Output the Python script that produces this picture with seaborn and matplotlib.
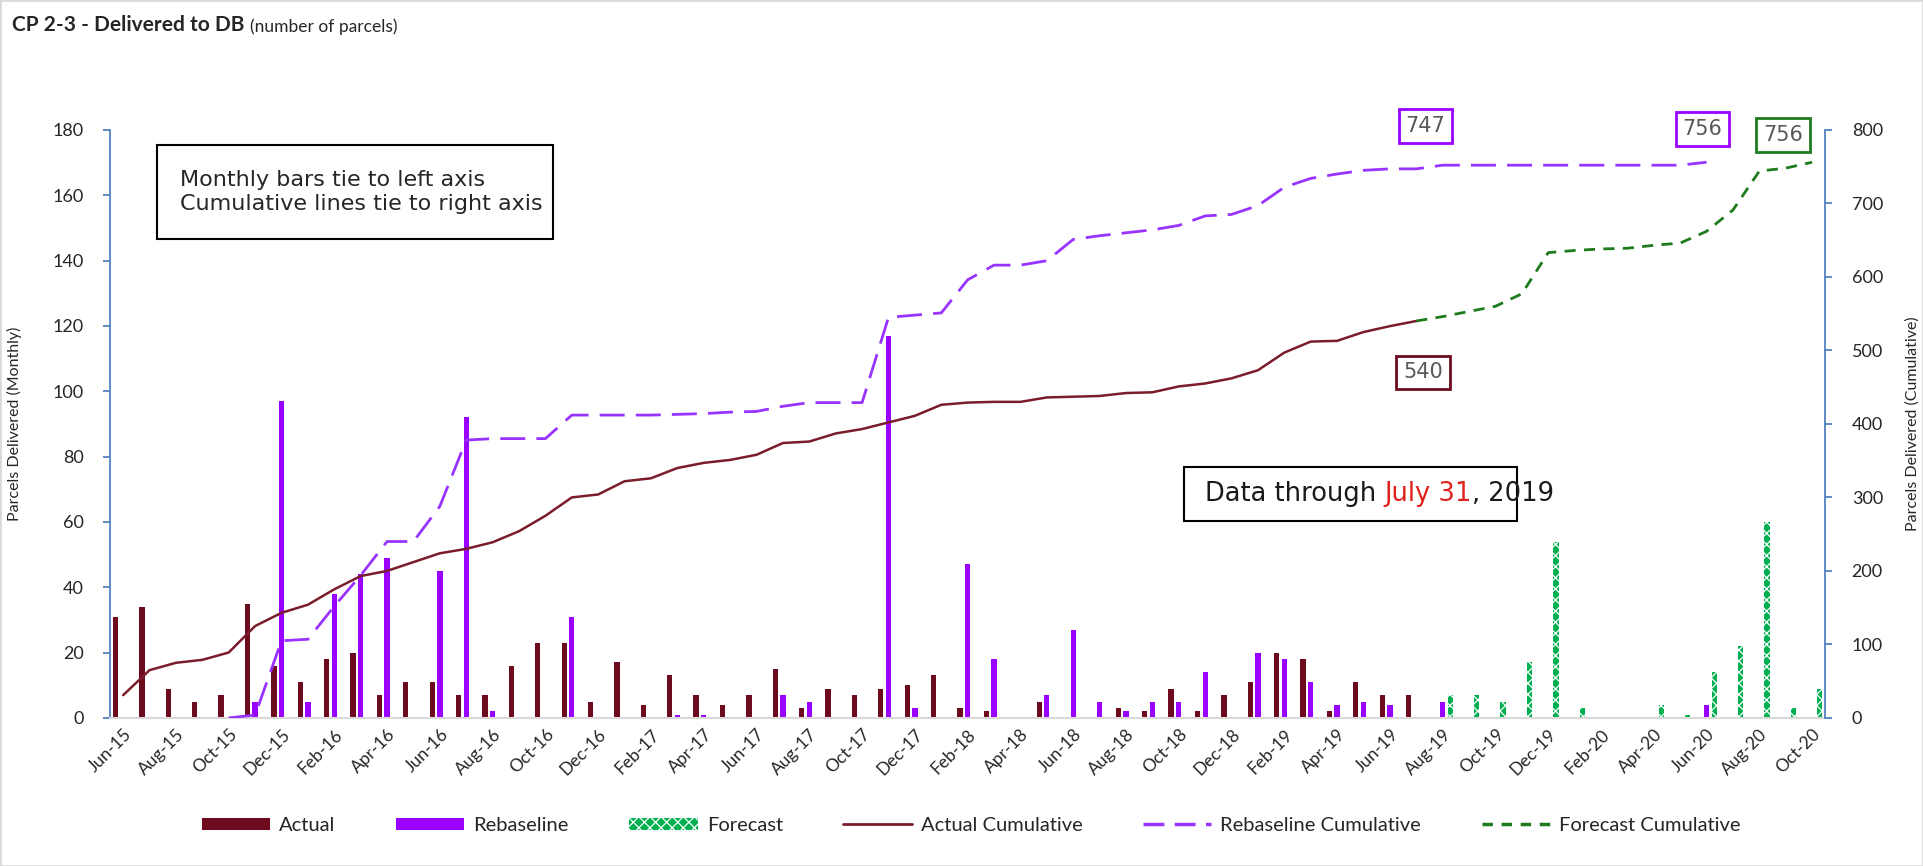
import numpy as np
import pandas as pd
import matplotlib
matplotlib.use("Agg")
import matplotlib.pyplot as plt
from matplotlib.patches import Patch, Rectangle
from matplotlib.lines import Line2D
import seaborn as sns

# ---- data ----
months = pd.date_range("2015-06-01", periods=65, freq="MS").strftime("%b-%y").tolist()

actual = [31, 34, 9, 5, 7, 35, 16, 11, 18, 20, 7, 11, 11, 7, 7, 16, 23, 23, 5,
          17, 4, 13, 7, 4, 7, 15, 3, 9, 7, 9, 10, 13, 3, 2, 0,
          5, 0, 0, 3, 2, 9, 2, 7, 11, 20, 18, 2, 11, 7, 7] + [0] * 15

rebaseline = [0, 0, 0, 0, 0, 5, 97, 5, 38, 44, 49, 0, 45, 92, 2, 0, 0, 31, 0,
              0, 0, 1, 1, 0, 0, 7, 5, 0, 0, 117, 3, 0, 47, 18, 0,
              7, 27, 5, 2, 5, 5, 14, 0, 20, 18, 11, 4, 5, 4, 0,
              5, 0, 0, 0, 0, 0, 0, 0, 0, 0, 4, 0, 0, 0, 0]

forecast = [0] * 50 + [7, 7, 5, 17, 54, 3, 0, 0, 4, 1, 14, 22, 60, 3, 9]

actual_cum = [31, 65, 75, 79, 89, 125, 143, 154, 175, 193, 200, 212, 224, 230, 239,
              254, 275, 300, 304, 322, 326, 340, 347, 351, 358, 374, 376, 387, 393,
              402, 411, 426, 429, 430, 430, 436, 437, 438, 442, 443, 451, 455, 462,
              473, 497, 512, 513, 525, 533, 540] + [np.nan] * 15

rebaseline_cum = [np.nan] * 4 + [0, 4, 105, 107, 152, 194, 240, 240, 288, 378, 380,
                  380, 380, 412, 412, 412, 412, 413, 414, 416, 417, 424, 429, 429,
                  429, 545, 548, 551, 596, 616, 616, 622, 651, 656, 660, 664, 670,
                  683, 685, 697, 722, 734, 740, 745, 747, 747,
                  752, 752, 752, 752, 752, 752, 752, 752, 752, 752, 756] + [np.nan] * 4

forecast_cum = [np.nan] * 49 + [540, 546, 553, 560, 577, 633, 636, 638, 639, 643,
                                646, 662, 691, 744, 748, 756]

series_names = ["Actual", "Rebaseline", "Forecast"]
bar_colors = {"Actual": "#6e0a1e", "Rebaseline": "#9900ff", "Forecast": "#00b050"}
c_act_line = "#7a1c2a"
c_reb_line = "#9933ff"
c_fc_line = "#1e7b1e"
axis_blue = "#4a7ebb"

df = pd.DataFrame({
    "month": months * 3,
    "series": np.repeat(series_names, len(months)),
    "value": actual + rebaseline + forecast,
})

sns.set_theme(style="white")
plt.rcParams["font.family"] = ["Lato", "DejaVu Sans"]
plt.rcParams["hatch.linewidth"] = 0.9

fig = plt.figure(figsize=(19.23, 8.66), dpi=100)
ax = fig.add_axes([0.0572, 0.171, 0.892, 0.679])

sns.barplot(data=df, x="month", y="value", hue="series", order=months,
            hue_order=series_names, palette=bar_colors, width=0.87, gap=0.31,
            errorbar=None, saturation=1, linewidth=0, legend=False, ax=ax)

# hatched forecast bars
for bar in ax.containers[2]:
    bar.set_edgecolor("white")
    bar.set_hatch("xxx")
    bar.set_linewidth(0)

ax.set_xlim(-0.5, 64.5)
ax.set_ylim(0, 180)
ax.set_yticks(range(0, 181, 20))
ax.set_xticks(range(0, 65, 2))
ax.set_xticklabels(months[::2], rotation=45, ha="right", rotation_mode="anchor",
                   fontsize=12.5)
ax.set_xlabel("")
ax.set_ylabel("Parcels Delivered (Monthly)", fontsize=11.5)
ax.yaxis.set_label_coords(-0.0513, 0.5)

ax2 = ax.twinx()
x = np.arange(len(months))
sns.lineplot(x=x, y=actual_cum, ax=ax2, color=c_act_line, linewidth=1.8)
sns.lineplot(x=x, y=rebaseline_cum, ax=ax2, color=c_reb_line, linewidth=2)
sns.lineplot(x=x, y=forecast_cum, ax=ax2, color=c_fc_line, linewidth=2)
ax2.lines[1].set_dashes([9, 4])
ax2.lines[2].set_dashes([4, 3])
ax2.set_ylim(0, 800)
ax2.set_yticks(range(0, 801, 100))
ax2.set_ylabel("Parcels Delivered (Cumulative)", fontsize=11.5)
ax2.yaxis.set_label_coords(1.0466, 0.5)

for a in (ax, ax2):
    a.spines["top"].set_visible(False)
ax.spines["right"].set_visible(False)
ax2.spines["left"].set_visible(False)
ax2.spines["bottom"].set_visible(False)
ax.spines["left"].set_color(axis_blue)
ax2.spines["right"].set_color(axis_blue)
ax.spines["bottom"].set_color("#d9d9d9")
ax.spines["bottom"].set_linewidth(1.5)
ax.tick_params(axis="y", direction="out", length=5, color=axis_blue, labelsize=13,
               pad=14, left=True)
ax2.tick_params(axis="y", direction="out", length=5, color=axis_blue, labelsize=13,
                pad=14, right=True)
ax.tick_params(axis="x", length=0, pad=6)

# value call-outs
box_kw = dict(ha="center", va="center", fontsize=15, color="#595959",
              family="DejaVu Sans", clip_on=False)
callouts = [(49.35, 805, "747", "#9900ff"), (59.85, 801, "756", "#9900ff"),
            (62.9, 793, "756", "#1e7b1e"), (49.25, 470, "540", "#6e0a1e")]
for cx, cy, txt, ec in callouts:
    ax2.text(cx, cy, txt, bbox=dict(boxstyle="square,pad=0.33", fc="white",
                                    ec=ec, lw=2), **box_kw)

# note boxes
fig.add_artist(Rectangle((0.0816, 0.7240), 0.2060, 0.1085, transform=fig.transFigure,
                         fill=False, edgecolor="black", lw=1.5))
fig.text(0.0936, 0.7783, "Monthly bars tie to left axis\nCumulative lines tie to right axis",
         fontsize=16, family="DejaVu Sans", va="center", ha="left", linespacing=1.3)

fig.add_artist(Rectangle((0.6157, 0.3984), 0.1732, 0.0624, transform=fig.transFigure,
                         facecolor="white", edgecolor="black", lw=1.5))
renderer = fig.canvas.get_renderer()
xpos = 0.6266
for piece, col in [("Data through ", "#1a1a1a"), ("July 31", "#e0201b"), (", 2019", "#1a1a1a")]:
    t = fig.text(xpos, 0.4296, piece, fontsize=18.5, family="DejaVu Sans", color=col,
                 va="center", ha="left")
    bb = t.get_window_extent(renderer=renderer)
    xpos += bb.width / fig.bbox.width

# title
t1 = fig.text(0.0062, 0.971, "CP 2-3 - Delivered to DB", fontsize=15, weight="bold",
              va="center", ha="left")
bb = t1.get_window_extent(renderer=renderer)
fig.text(0.0062 + bb.width / fig.bbox.width + 0.003, 0.969, "(number of parcels)",
         fontsize=12.5, va="center", ha="left")

# legend
handles = [
    Patch(facecolor=bar_colors["Actual"], lw=0),
    Patch(facecolor=bar_colors["Rebaseline"], lw=0),
    Patch(facecolor=bar_colors["Forecast"], edgecolor="white", hatch="xxx", lw=0),
    Line2D([], [], color=c_act_line, lw=2),
    Line2D([], [], color=c_reb_line, lw=2.5, dashes=[6, 3]),
    Line2D([], [], color=c_fc_line, lw=2.5, dashes=[3, 2.5]),
]
labels = ["Actual", "Rebaseline", "Forecast", "Actual Cumulative",
          "Rebaseline Cumulative", "Forecast Cumulative"]
fig.legend(handles, labels, loc="center", bbox_to_anchor=(0.505, 0.047), ncol=6,
           frameon=False, fontsize=14.5, handlelength=3.4, handleheight=0.55,
           columnspacing=3.0, handletextpad=0.45)

fig.add_artist(Rectangle((0, 0), 1, 1, transform=fig.transFigure, fill=False,
                         edgecolor="#d9d9d9", lw=2))

fig.savefig("out.png", dpi=100)
